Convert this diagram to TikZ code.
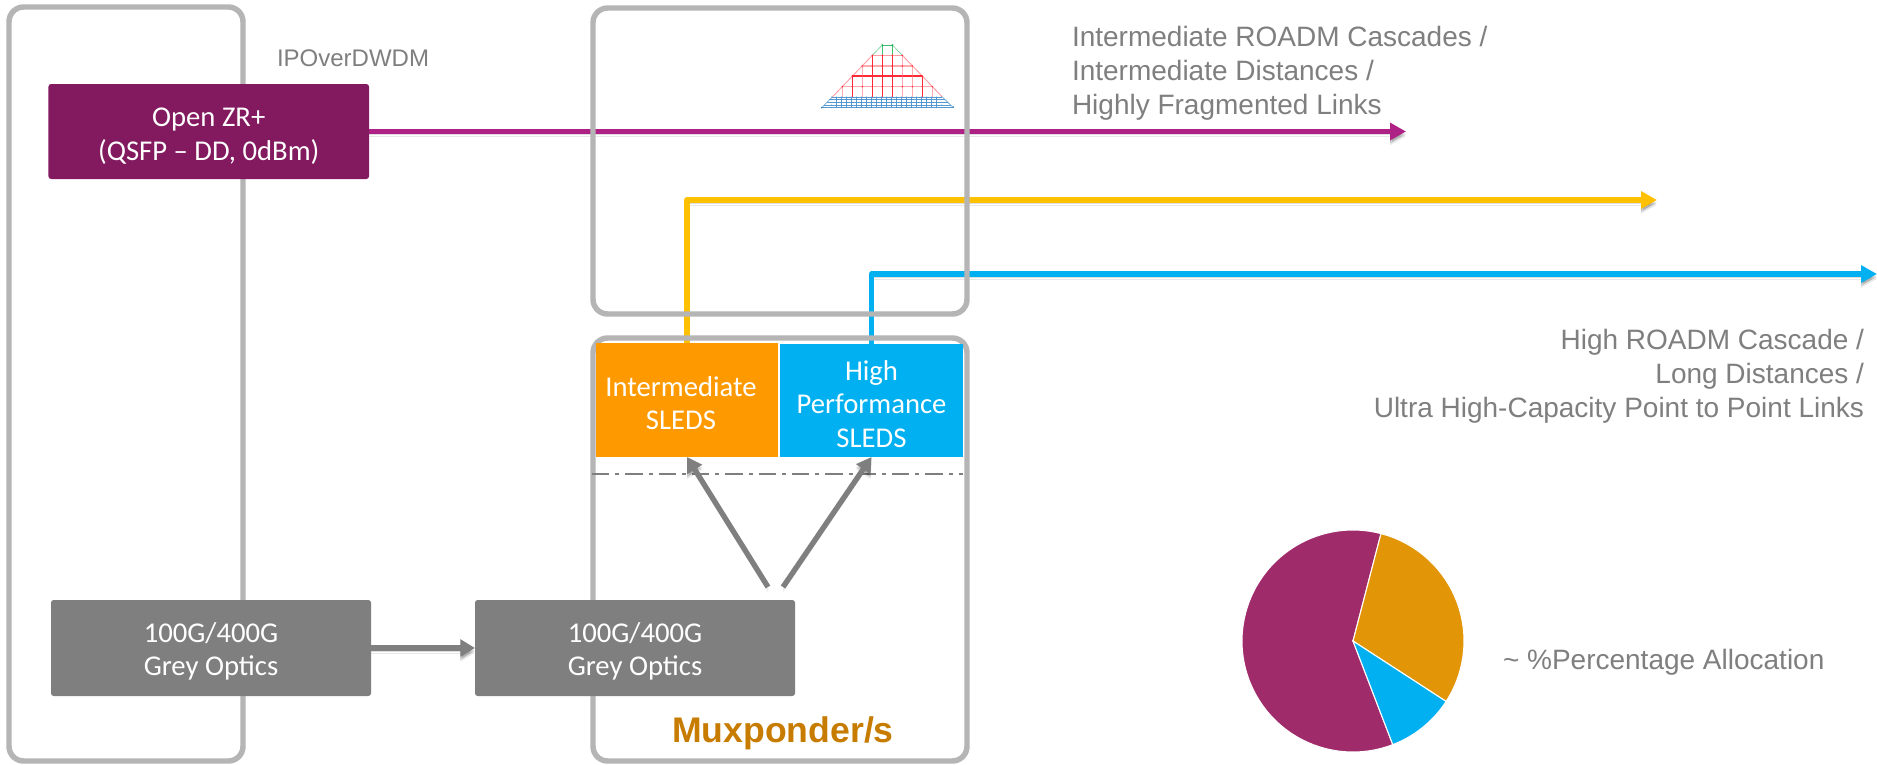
\documentclass[tikz,border=0pt]{standalone}
\usepackage{fontspec}
\setmainfont{Liberation Sans}
\newfontfamily\calib{Carlito}
\usetikzlibrary{arrows.meta}
\newcommand{\lowertext}[1]{\rule{0pt}{#1}}
\definecolor{framegrey}{HTML}{B5B5B5}
\definecolor{midgrey}{HTML}{7F7F7F}
\definecolor{zrpurple}{HTML}{831A60}
\definecolor{linepurple}{HTML}{AE2185}
\definecolor{lineyellow}{HTML}{FFC000}
\definecolor{skyblue}{HTML}{00B0F0}
\definecolor{sledorange}{HTML}{FF9900}
\definecolor{muxtext}{HTML}{C77C00}
\definecolor{piepurple}{HTML}{A02B6B}
\definecolor{pieorange}{HTML}{E29507}
\definecolor{meshred}{HTML}{FF2A35}
\definecolor{meshblue}{HTML}{1F78C1}
\definecolor{meshgreen}{HTML}{22B45A}
\tikzset{
  framebox/.style={draw=framegrey,line width=4.1pt,rounded corners=11pt,inner sep=0pt,outer sep=0pt},
  solidbox/.style={rounded corners=2pt,inner sep=0pt,outer sep=0pt,text=white,align=center,
     font=\calib\fontsize{21.5}{25}\selectfont},
  greybox/.style={solidbox,fill=midgrey,minimum width=240pt,minimum height=72pt},
  sled/.style={solidbox,rounded corners=0pt},
  caption/.style={inner sep=0pt,outer sep=0pt,text=midgrey,font=\fontsize{21}{25.5}\selectfont},
  shadowed/.style={preaction={draw=black,opacity=.13,transform canvas={yshift=-2.2pt}},
                   preaction={draw=black,opacity=.09,transform canvas={yshift=-3.6pt}}},
  linkline/.style={line width=3.9pt,line join=round,shadowed,-{Triangle[length=12pt,width=12.5pt]}},
  grayarrow/.style={draw=midgrey,line width=4pt,shadowed,-{Triangle[length=11pt,width=12.5pt]}},
  anchorbox/.style={inner sep=0pt,outer sep=0pt},
}
\begin{document}
\begin{tikzpicture}[x=.75pt,y=-.75pt]
\useasboundingbox (0,0) rectangle (1877,764);
\fill[white] (0,0) rectangle (1877,764);

% free ends of the connectors
\coordinate (purpleEnd) at (1406,131.5);
\coordinate (yellowEnd) at (1657,200);
\coordinate (blueEnd) at (1877,274);
\coordinate (forkA) at (768,587);
\coordinate (forkB) at (783,587);
\coordinate (dashL) at (592,474);
\coordinate (dashR) at (963,474);

% node positions known up front; drawn later so frames lie over the links
\node[anchorbox,minimum width=136.5pt,minimum height=85.5pt] (interA) at (687,400) {};
\node[anchorbox,minimum width=137.25pt,minimum height=84.4pt] (highA) at (871.5,400.75) {};
\node[anchorbox,minimum width=240.4pt,minimum height=71.25pt] (zrA) at (208.75,131.5) {};

% links
\draw[linkline,draw=linepurple,line width=4.3pt] (zrA.east) -- (purpleEnd);
\draw[linkline,draw=lineyellow] (interA.north) |- (yellowEnd);
\draw[linkline,draw=skyblue] (highA.north) |- (blueEnd);

% frames
\node[framebox,minimum width=175.5pt,minimum height=565.5pt] (leftFrame) at (126,384) {};
\node[framebox,minimum width=280.5pt,minimum height=229.5pt] (upperFrame) at (780,161) {};
\node[framebox,minimum width=280.5pt,minimum height=317.25pt] (muxFrame) at (780,549.5) {};

% boxes
\node[solidbox,fill=zrpurple,minimum width=240.4pt,minimum height=71.25pt] (zr) at (208.75,131.5) {\lowertext{21pt}Open ZR+\\(QSFP – DD, 0dBm)};
\node[greybox] (greyA) at (211,648) {\lowertext{20pt}100G/400G\\Grey Optics};
\node[greybox] (greyB) at (635,648) {\lowertext{20pt}100G/400G\\Grey Optics};
\node[sled,fill=sledorange,minimum width=136.5pt,minimum height=85.5pt] (inter) at (687,400) {\lowertext{20pt}Intermediate\hspace*{9pt}\\SLEDS\hspace*{9pt}};
\node[sled,fill=skyblue,minimum width=137.25pt,minimum height=84.4pt] (high) at (871.5,400.75) {\lowertext{20pt}High\\Performance\\SLEDS};

% dash-dot separator
\draw[midgrey,line width=1.9pt,dash pattern=on 13pt off 4.5pt on 3pt off 4.5pt] (dashL) -- (dashR);

% grey arrows
\draw[grayarrow] (greyA.east) -- (greyB.west);
\draw[grayarrow] (forkA) -- (inter.south);
\draw[grayarrow] (forkB) -- (high.south);

% labels
\node[caption,anchor=west] (ipo) at (277,58.5) {\fontsize{18}{22}\selectfont IPOverDWDM};
\node[caption,anchor=west,align=left] (capA) at (1072,73) {Intermediate ROADM Cascades /\\Intermediate Distances /\\Highly Fragmented Links};
\node[caption,anchor=east,align=right] (capB) at (1864,376.5) {High ROADM Cascade /\\Long Distances /\\Ultra High-Capacity Point to Point Links};
\node[caption,anchor=west] (capC) at (1503,662) {\textasciitilde{} \%Percentage Allocation};
\node[inner sep=0pt,outer sep=0pt,text=muxtext,font=\bfseries\fontsize{26.7}{30}\selectfont] (muxLabel) at (783,733) {Muxponder/s};

% mesh icon
\begin{scope}[shift={(570,0)},x=.25pt,y=-.25pt]
  % green cap
  \draw[meshgreen!60,line width=.5pt] (907,166) -- (937,135) (997,166) -- (967,135);
  \draw[meshgreen!85,line width=.5pt] (937,135) -- (967,135) (937,135) -- (937,166) (967,135) -- (967,166);
  \fill[meshgreen] (937,135) circle (2.8) (967,135) circle (2.8);
  % red part
  \draw[meshred!45,line width=.7pt] (907,166) -- (787,291) (997,166) -- (1117,291);
  \foreach \yy/\xa/\xb/\st in {166/907/997/45,198/877/1027/40,228/847/1057/100,260/817/1087/40}
    {\draw[meshred!\st,line width=.8pt] (\xa,\yy) -- (\xb,\yy);}
  \foreach \xx/\yy/\st in {907/166/100,877/198/40,847/228/100,817/260/40,937/166/100,967/166/100,997/166/40,1027/198/40,1057/228/100,1087/260/40}
    {\draw[meshred!\st,line width=.8pt] (\xx,\yy) -- (\xx,291);}
  \foreach \yy/\xa/\xn/\xb in {166/907/937/997,198/877/907/1027,228/847/877/1057,260/817/847/1087}
    {\foreach \xx in {\xa,\xn,...,\xb}
      {\fill[meshred] (\xx,\yy) circle (2.6);}}
  % blue part
  \draw[meshblue!60,line width=.6pt] (787,291) -- (755,323) (1117,291) -- (1150,323);
  \foreach \yy/\xa/\xb in {291/785/1117,299/777/1125,307/770/1135,315/762/1142,323/755/1150}
    {\draw[meshblue!75,line width=.6pt] (\xa,\yy) -- (\xb,\yy);}
  \foreach \xx in {800,815,...,1105}
    {\draw[meshblue!75,line width=.6pt] (\xx,291) -- (\xx,323);}
  \foreach \yy in {291,299,307,315,323}
    {\foreach \xx in {785,800,...,1115}
      {\fill[meshblue!80] (\xx,\yy) circle (1.7);}}
  \fill[meshblue] (755,323) circle (2.4) (1150,321) circle (2.4);
\end{scope}

% pie
\begin{scope}[shift={(1353,641)},x=1pt,y=1pt]
  \fill[piepurple,draw=white,line width=.8pt] (0,0) -- (75.4:83.25pt) arc[start angle=75.4,end angle=291,radius=83.25pt] -- cycle;
  \fill[pieorange,draw=white,line width=.8pt] (0,0) -- (75.4:83.25pt) arc[start angle=75.4,end angle=-33,radius=83.25pt] -- cycle;
  \fill[skyblue,draw=white,line width=.8pt] (0,0) -- (-33:83.25pt) arc[start angle=-33,end angle=-69,radius=83.25pt] -- cycle;
\end{scope}
\end{tikzpicture}
\end{document}
